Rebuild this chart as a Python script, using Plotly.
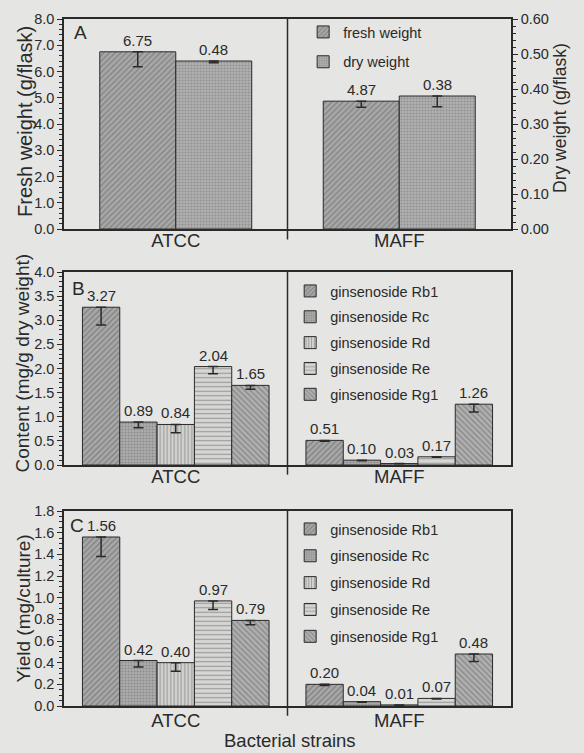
import plotly.graph_objects as go

# ---------------- data ----------------
strains = ["ATCC", "MAFF"]

fresh_weight = [6.75, 4.87]
fresh_err = [0.57, 0.23]
dry_weight = [0.48, 0.38]
dry_err = [0.005, 0.031]

ginsenosides = ["ginsenoside Rb1", "ginsenoside Rc", "ginsenoside Rd",
                "ginsenoside Re", "ginsenoside Rg1"]
content_atcc = [3.27, 0.89, 0.84, 2.04, 1.65]
content_maff = [0.51, 0.10, 0.03, 0.17, 1.26]
content_err_atcc = [0.37, 0.12, 0.17, 0.15, 0.08]
content_err_maff = [0.02, 0.01, 0.005, 0.01, 0.16]

yield_atcc = [1.56, 0.42, 0.40, 0.97, 0.79]
yield_maff = [0.20, 0.04, 0.01, 0.07, 0.48]
yield_err_atcc = [0.18, 0.06, 0.08, 0.08, 0.04]
yield_err_maff = [0.01, 0.005, 0.003, 0.005, 0.07]

# ---------------- styles ----------------
BG = "#e5e5e3"
INK = "#2a2a2a"
FONT = "Liberation Sans, Arial, Helvetica, sans-serif"
W, H = 584.0, 753.0
L, R = 64.0, 73.0
PW = W - L - R

wt_styles = [
    dict(shape="/", bgcolor="#a8a8a8", fgcolor="#5a5a5a", size=4, solidity=0.3),
    dict(shape=".", bgcolor="#b0b0b0", fgcolor="#707070", size=3, solidity=0.35),
]
gs_styles = [
    dict(shape="/", bgcolor="#a8a8a8", fgcolor="#555555", size=4, solidity=0.3),
    dict(shape=".", bgcolor="#acacac", fgcolor="#6a6a6a", size=3, solidity=0.35),
    dict(shape="|", bgcolor="#d2d2d0", fgcolor="#555555", size=3.5, solidity=0.28),
    dict(shape="-", bgcolor="#d6d6d4", fgcolor="#555555", size=4.5, solidity=0.24),
    dict(shape="\\", bgcolor="#b0b0b0", fgcolor="#5a5a5a", size=4, solidity=0.3),
]

fig = go.Figure()

def err(vals):
    return dict(type="data", symmetric=False, array=[0] * len(vals),
                arrayminus=vals, color=INK, thickness=1.5, width=5)

annotations = []

def label(xidx, off, val, xref, yref):
    annotations.append(dict(
        x=xidx + off, y=val, xref=xref, yref=yref, text=f"{val:.2f}",
        showarrow=False, yanchor="bottom", yshift=1,
        font=dict(size=15, color=INK, family=FONT)))

# ---------------- panel A ----------------
wA = 0.34
series_A = [("fresh weight", fresh_weight, fresh_err, "y"),
            ("dry weight", dry_weight, dry_err, "y4")]
for i, (name, vals, e, yax) in enumerate(series_A):
    fig.add_trace(go.Bar(
        x=strains, y=vals, name=name, xaxis="x", yaxis=yax,
        width=wA, offset=-wA + i * wA,
        marker=dict(pattern=wt_styles[i], line=dict(color=INK, width=1)),
        error_y=err(e), legend="legend", legendgroup=f"A{i}"))
    for j, v in enumerate(vals):
        label(j, -wA / 2 + i * wA, v, "x", yax)

# ---------------- panels B & C ----------------
wB = 0.167
for panel, (atcc, maff, ea, em, xa, ya, lg) in enumerate([
        (content_atcc, content_maff, content_err_atcc, content_err_maff, "x2", "y2", "legend2"),
        (yield_atcc, yield_maff, yield_err_atcc, yield_err_maff, "x3", "y3", "legend3")]):
    for i, name in enumerate(ginsenosides):
        vals = [atcc[i], maff[i]]
        fig.add_trace(go.Bar(
            x=strains, y=vals, name=name, xaxis=xa, yaxis=ya,
            width=wB, offset=-2.5 * wB + i * wB,
            marker=dict(pattern=gs_styles[i], line=dict(color=INK, width=1)),
            error_y=err([ea[i], em[i]]), legend=lg, legendgroup=f"{lg}{i}"))
        for j, v in enumerate(vals):
            label(j, -2 * wB + i * wB, v, xa, ya)

# ---------------- layout ----------------
def dom(top_px, bot_px):
    return [1 - bot_px / H, 1 - top_px / H]

tickfont = dict(size=14.5, color=INK, family=FONT)
catfont = dict(size=18.5, color=INK, family=FONT)

def xax(anchor, standoff):
    return dict(domain=[0, 1], anchor=anchor, type="category", range=[-0.5, 1.5],
                showline=True, linecolor=INK, linewidth=1.5, mirror=True,
                ticks="", tickfont=catfont, showgrid=False, zeroline=False,
                automargin=False, ticklabelstandoff=standoff)

def yax(rng, dtick, minor, fmt, domain, anchor="x"):
    return dict(domain=domain, anchor=anchor, range=rng, dtick=dtick,
                tickformat=fmt, ticks="outside", ticklen=5, tickwidth=1.2,
                tickcolor=INK, minor=dict(dtick=minor, ticklen=3, tickwidth=1,
                                          ticks="outside", tickcolor=INK),
                showline=True, linecolor=INK, linewidth=1.5, mirror=True,
                tickfont=tickfont, showgrid=False, zeroline=False,
                automargin=False)

domA = dom(19, 229)
domB = dom(272, 465)
domC = dom(511, 706)

layout = dict(
    width=W, height=H, paper_bgcolor=BG, plot_bgcolor=BG,
    margin=dict(l=L, r=R, t=0, b=0, autoexpand=False),
    font=dict(family=FONT, color=INK),
    barmode="group", showlegend=True,
    xaxis=xax("y", -6), xaxis2=xax("y2", -6), xaxis3=xax("y3", -3),
    yaxis=yax([0, 8], 1, 0.2, ".1f", domA, "x"),
    yaxis2=yax([0, 4], 0.5, 0.1, ".1f", domB, "x2"),
    yaxis3=yax([0, 1.8], 0.2, 0.05, ".1f", domC, "x3"),
)
y4 = yax([0, 0.6], 0.1, 0.02, ".2f", domA, "x")
y4.update(overlaying="y", side="right", mirror=False)
layout["yaxis4"] = y4

legfont = dict(size=14.5, color=INK, family=FONT)
def leg(x, ytop_px, gap):
    return dict(x=x, y=1 - ytop_px / H, xref="paper", yref="paper",
                xanchor="left", yanchor="top",
                bgcolor="rgba(0,0,0,0)", font=legfont, tracegroupgap=gap,
                itemclick=False, itemdoubleclick=False)
layout["legend"] = leg(0.535, 16, 8)
layout["legend2"] = leg(0.506, 275, 4)
layout["legend3"] = leg(0.506, 513, 5)

fig.update_layout(**layout)

# dividers between strains
shapes = []
for xr, yr in [("x", "y domain"), ("x2", "y2 domain"), ("x3", "y3 domain")]:
    shapes.append(dict(type="line", xref=xr, yref=yr, x0=0.5, x1=0.5, y0=-0.05, y1=1,
                       line=dict(color=INK, width=1.5)))
fig.update_layout(shapes=shapes)

def px_x(px):
    return (px - L) / PW

# axis titles (placed as rotated text)
titles = [
    ("Fresh weight (g/flask)", 25, (19 + 229) / 2 - 2, 20),
    ("Content (mg/g dry weight)", 22, (272 + 465) / 2 - 5, 19),
    ("Yield (mg/culture)", 23, (511 + 706) / 2, 19),
    ("Dry weight (g/flask)", 560, (19 + 229) / 2 - 6, 17.5),
]
for text, xc, yc, size in titles:
    annotations.append(dict(text=text, x=px_x(xc), y=1 - yc / H, xref="paper",
                            yref="paper", xanchor="center", yanchor="middle",
                            textangle=-90, showarrow=False,
                            font=dict(size=size, color=INK, family=FONT)))
annotations.append(dict(text="Bacterial strains", x=px_x(290), y=1 - 740 / H,
                        xref="paper", yref="paper", xanchor="center", yanchor="middle",
                        showarrow=False, font=dict(size=18.5, color=INK, family=FONT)))

# panel letters
for letter, xr, yr, xc, yc, top, bot in [
        ("A", "x domain", "y domain", 80, 33, 19, 229),
        ("B", "x2 domain", "y2 domain", 78, 288, 272, 465),
        ("C", "x3 domain", "y3 domain", 77, 525, 511, 706)]:
    annotations.append(dict(text=letter, x=px_x(xc), y=(bot - yc) / (bot - top),
                            xref=xr, yref=yr, xanchor="center", yanchor="middle",
                            showarrow=False,
                            font=dict(size=19, color=INK, family=FONT)))
fig.update_layout(annotations=annotations)

fig.write_html("out.html")
